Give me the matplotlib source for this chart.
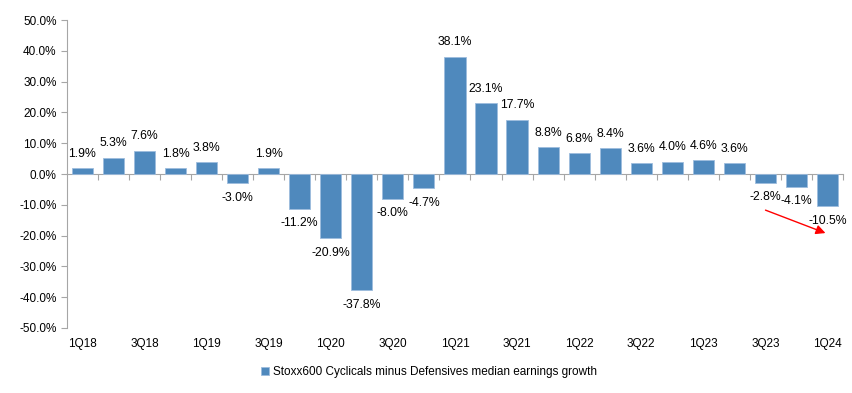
import numpy as np
import matplotlib.pyplot as plt
from matplotlib.ticker import FuncFormatter

quarters = ['1Q18', '2Q18', '3Q18', '4Q18', '1Q19', '2Q19', '3Q19', '4Q19',
            '1Q20', '2Q20', '3Q20', '4Q20', '1Q21', '2Q21', '3Q21', '4Q21',
            '1Q22', '2Q22', '3Q22', '4Q22', '1Q23', '2Q23', '3Q23', '4Q23',
            '1Q24']
growth = [1.9, 5.3, 7.6, 1.8, 3.8, -3.0, 1.9, -11.2,
          -20.9, -37.8, -8.0, -4.7, 38.1, 23.1, 17.7, 8.8,
          6.8, 8.4, 3.6, 4.0, 4.6, 3.6, -2.8, -4.1,
          -10.5]
series_name = 'Stoxx600 Cyclicals minus Defensives median earnings growth'


def main():
    plt.rcParams['font.family'] = ['Liberation Sans', 'DejaVu Sans']
    fig = plt.figure(figsize=(8.52, 3.93), dpi=100)
    ax = fig.add_axes([0.0786, 0.1654, 0.9108, 0.7836])

    x = np.arange(len(quarters))
    bars = ax.bar(x, growth, width=0.68, color='#4F89BD',
                  edgecolor='#9DBCDD', linewidth=0.6, label=series_name)
    ax.bar_label(bars, labels=[f'{v:.1f}%' for v in growth],
                 padding=6, fontsize=8.8)

    ax.set_xlim(-0.5, len(quarters) - 0.5)
    ax.set_ylim(-50, 50)
    ax.set_yticks(np.arange(-50, 51, 10))
    ax.yaxis.set_major_formatter(FuncFormatter(lambda v, p: f'{v:.1f}%'))

    ax.set_xticks(x[::2])
    ax.set_xticklabels(quarters[::2])
    ax.tick_params(axis='x', length=0, labelsize=8.5, pad=7)
    ax.tick_params(axis='y', length=4, color='#A6A6A6', labelsize=8.5)

    for s in ['top', 'right', 'bottom']:
        ax.spines[s].set_visible(False)
    ax.spines['left'].set_color('#A6A6A6')

    # zero axis line with category boundary ticks
    sec = ax.secondary_xaxis(0.5)
    sec.set_alignment('bottom')
    sec.set_xticks(x + 0.5)
    sec.set_xticklabels([])
    sec.tick_params(length=4, color='#A6A6A6', direction='out')
    for s in sec.spines.values():
        s.set_visible(False)
    sec.spines['bottom'].set_visible(True)
    sec.spines['bottom'].set_color('#A6A6A6')

    ax.annotate('', xy=(24.02, -19.5), xytext=(21.92, -11.4),
                arrowprops=dict(arrowstyle='-|>', color='red', lw=1,
                                mutation_scale=14))

    fig.legend(loc='center', bbox_to_anchor=(429 / 852, 1 - 372 / 393),
               frameon=False, fontsize=8.5, handlelength=0.7,
               handleheight=0.7, handletextpad=0.3)

    fig.savefig('out.png', dpi=100)


if __name__ == '__main__':
    main()
